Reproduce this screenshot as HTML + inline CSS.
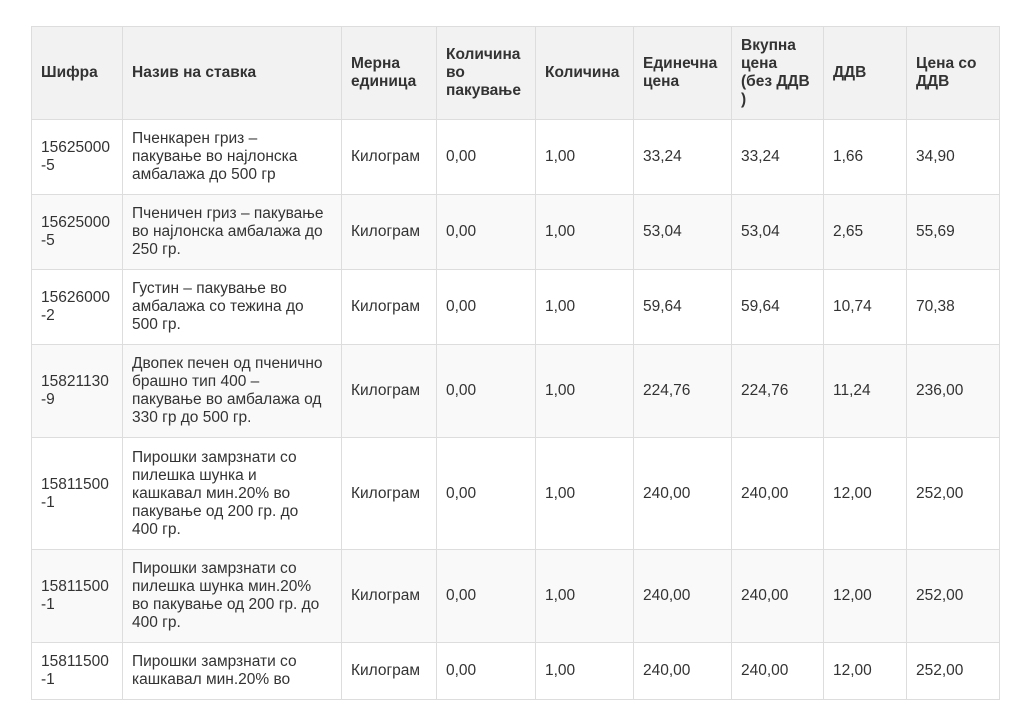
<!DOCTYPE html>
<html><head><meta charset="utf-8"><style>
body{margin:0;background:#fff;width:1024px;height:725px;overflow:hidden;font-family:"Liberation Sans",Arial,sans-serif;font-size:15.5px;color:#333;}
table{position:absolute;left:31px;top:26px;border-collapse:collapse;table-layout:fixed;width:968px;}
td,th{border:1px solid #ddd;padding:0 8px 0 9px;line-height:18px;vertical-align:middle;text-align:left;overflow:hidden;}
th{background:#f2f2f2;font-weight:bold;height:92px;}
tr.a td{background:#f9f9f9;}
</style></head><body>
<table>
<colgroup><col style="width:91px"><col style="width:219px"><col style="width:95px"><col style="width:99px"><col style="width:98px"><col style="width:98px"><col style="width:92px"><col style="width:83px"><col style="width:93px"></colgroup>
<tr><th>Шифра</th><th>Назив на ставка</th><th>Мерна единица</th><th>Количина во пакување</th><th>Количина</th><th>Единечна цена</th><th>Вкупна цена<br>(без ДДВ<br>)</th><th>ДДВ</th><th>Цена со ДДВ</th></tr>
<tr style="height:75px"><td>15625000<br>-5</td><td>Пченкарен гриз –<br>пакување во најлонска амбалажа до 500 гр</td><td>Килограм</td><td>0,00</td><td>1,00</td><td>33,24</td><td>33,24</td><td>1,66</td><td>34,90</td></tr>
<tr class="a" style="height:75px"><td>15625000<br>-5</td><td>Пченичен гриз – пакување<br>во најлонска амбалажа до<br>250 гр.</td><td>Килограм</td><td>0,00</td><td>1,00</td><td>53,04</td><td>53,04</td><td>2,65</td><td>55,69</td></tr>
<tr style="height:75px"><td>15626000<br>-2</td><td>Густин – пакување во<br>амбалажа со тежина до<br>500 гр.</td><td>Килограм</td><td>0,00</td><td>1,00</td><td>59,64</td><td>59,64</td><td>10,74</td><td>70,38</td></tr>
<tr class="a" style="height:93px"><td>15821130<br>-9</td><td>Двопек печен од пченично<br>брашно тип 400 –<br>пакување во амбалажа од<br>330 гр до 500 гр.</td><td>Килограм</td><td>0,00</td><td>1,00</td><td>224,76</td><td>224,76</td><td>11,24</td><td>236,00</td></tr>
<tr style="height:112px"><td>15811500<br>-1</td><td>Пирошки замрзнати со<br>пилешка шунка и<br>кашкавал мин.20% во<br>пакување од 200 гр. до<br>400 гр.</td><td>Килограм</td><td>0,00</td><td>1,00</td><td>240,00</td><td>240,00</td><td>12,00</td><td>252,00</td></tr>
<tr class="a" style="height:93px"><td>15811500<br>-1</td><td>Пирошки замрзнати со<br>пилешка шунка мин.20%<br>во пакување од 200 гр. до<br>400 гр.</td><td>Килограм</td><td>0,00</td><td>1,00</td><td>240,00</td><td>240,00</td><td>12,00</td><td>252,00</td></tr>
<tr style="height:57px"><td>15811500<br>-1</td><td>Пирошки замрзнати со<br>кашкавал мин.20% во</td><td>Килограм</td><td>0,00</td><td>1,00</td><td>240,00</td><td>240,00</td><td>12,00</td><td>252,00</td></tr>
</table>
</body></html>
